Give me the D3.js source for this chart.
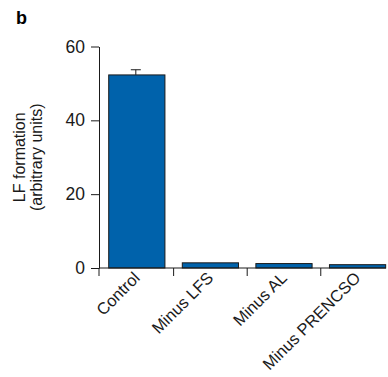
<!DOCTYPE html>
<html>
<head>
<meta charset="utf-8">
<script src="https://cdn.jsdelivr.net/npm/d3@7"></script>
<style>
  body { margin: 0; background: #fff; }
  svg { display: block; font-family: "Liberation Sans", Arial, Helvetica, sans-serif; }
</style>
</head>
<body>
<div id="chart"></div>
<script>
const categories = ["Control", "Minus LFS", "Minus AL", "Minus PRENCSO"];
const values = [52.3, 1.4, 1.2, 0.9];
const errors = [1.4, 0, 0, 0];
const yTicks = [0, 20, 40, 60];

const width = 388, height = 377;
const plotLeft = 99, plotRight = 386, plotTop = 46.5, plotBottom = 268;

const svg = d3.select("#chart")
  .append("svg")
  .attr("width", width)
  .attr("height", height);

const data = categories.map((c, i) => ({ name: c, value: values[i], err: errors[i] }));

const x = d3.scaleBand()
  .domain(categories)
  .range([plotLeft, plotRight + 1])
  .paddingInner(0.236)
  .paddingOuter(0.075)
  .align(0.88);

const y = d3.scaleLinear().domain([0, 60]).range([plotBottom, plotTop]);

// panel letter
svg.append("text")
  .attr("x", 16)
  .attr("y", 24)
  .style("font-size", "18px")
  .style("font-weight", "bold")
  .text("b");

// bars
svg.selectAll("rect.bar")
  .data(data)
  .enter()
  .append("rect")
  .attr("class", "bar")
  .attr("x", d => x(d.name))
  .attr("width", x.bandwidth())
  .attr("y", d => y(d.value))
  .attr("height", d => y(0) - y(d.value))
  .attr("fill", "#0062ab")
  .attr("stroke", "#1a1a1a")
  .attr("stroke-width", 1);

// error bar on control
const errG = svg.selectAll("g.err")
  .data(data.filter(d => d.err > 0))
  .enter()
  .append("g")
  .attr("class", "err")
  .attr("stroke", "#1a1a1a")
  .attr("stroke-width", 1);

errG.append("line")
  .attr("x1", d => x(d.name) + x.bandwidth() / 2 - 1)
  .attr("x2", d => x(d.name) + x.bandwidth() / 2 - 1)
  .attr("y1", d => y(d.value))
  .attr("y2", d => y(d.value + d.err));

errG.append("line")
  .attr("x1", d => x(d.name) + x.bandwidth() / 2 - 6)
  .attr("x2", d => x(d.name) + x.bandwidth() / 2 + 4)
  .attr("y1", d => y(d.value + d.err))
  .attr("y2", d => y(d.value + d.err));

// y axis
const yAxisG = svg.append("g")
  .attr("transform", `translate(${plotLeft},0)`)
  .call(d3.axisLeft(y).tickValues(yTicks).tickSize(8).tickSizeOuter(0).tickPadding(6));

yAxisG.select(".domain").attr("stroke", "#1a1a1a");
yAxisG.selectAll(".tick line").attr("stroke", "#1a1a1a");
yAxisG.selectAll(".tick text")
  .style("font-size", "17.5px")
  .style("font-family", "\"Liberation Sans\", Arial, sans-serif")
  .attr("fill", "#1a1a1a");

// x axis
const xAxisG = svg.append("g");
xAxisG.append("line")
  .attr("x1", plotLeft)
  .attr("x2", plotRight)
  .attr("y1", y(0))
  .attr("y2", y(0))
  .attr("stroke", "#1a1a1a");

const gap = x.step() * x.paddingInner();
xAxisG.selectAll("line.xtick")
  .data(categories)
  .enter()
  .append("line")
  .attr("class", "xtick")
  .attr("x1", (d, i) => i === 0 ? plotLeft : x(d) - gap / 2)
  .attr("x2", (d, i) => i === 0 ? plotLeft : x(d) - gap / 2)
  .attr("y1", y(0))
  .attr("y2", y(0) + 8)
  .attr("stroke", "#1a1a1a");

xAxisG.selectAll("text.xlabel")
  .data(categories)
  .enter()
  .append("text")
  .attr("class", "xlabel")
  .attr("text-anchor", "end")
  .attr("transform", d => `translate(${x(d) + x.bandwidth() / 2 + 4},${y(0) + 11}) rotate(-45)`)
  .style("font-size", "16.5px")
  .attr("fill", "#1a1a1a")
  .text(d => d);

// y axis title
const midY = (plotTop + plotBottom) / 2;
svg.append("text")
  .attr("text-anchor", "middle")
  .attr("transform", `translate(25,${midY}) rotate(-90)`)
  .style("font-size", "16px")
  .attr("fill", "#1a1a1a")
  .text("LF formation");

svg.append("text")
  .attr("text-anchor", "middle")
  .attr("transform", `translate(42,${midY}) rotate(-90)`)
  .style("font-size", "16px")
  .attr("fill", "#1a1a1a")
  .text("(arbitrary units)");
</script>
</body>
</html>
